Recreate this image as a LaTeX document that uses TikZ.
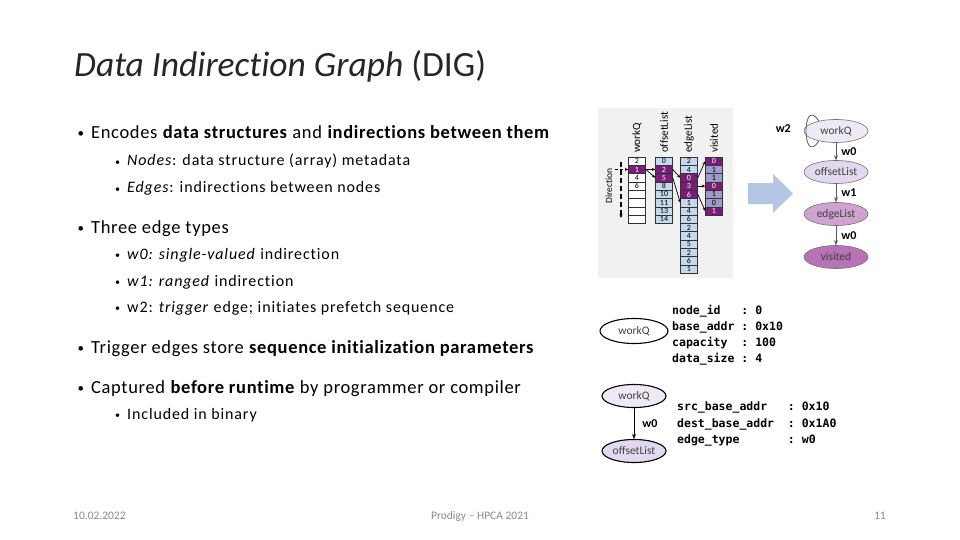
\documentclass[tikz,border=0pt]{standalone}
\usepackage{fontspec}
\setmainfont{Carlito}[Ligatures={NoCommon}]
\newfontfamily\codefont{DejaVu Sans Mono}
\usepackage{tikz}
\usetikzlibrary{shapes,arrows.meta,positioning,calc}
\usepackage{xcolor}
\definecolor{hlpurple}{HTML}{7A1C7A}
\definecolor{cellblue}{HTML}{C6D9EC}
\definecolor{cellviolet}{HTML}{9E9BCB}
\definecolor{bigarrow}{HTML}{B4C6E4}
\definecolor{panelgray}{HTML}{F1F1F1}
\definecolor{footgray}{HTML}{8A8A8A}
\definecolor{gfillA}{HTML}{EEE9F5}
\definecolor{gfillB}{HTML}{E2D9EE}
\definecolor{gfillC}{HTML}{CFA3D0}
\definecolor{gfillD}{HTML}{B872B6}

\newcommand{\bulone}{\makebox[14pt][l]{\hspace{0.5pt}\raisebox{1pt}{\fontsize{13}{13}\selectfont\textbullet}}}
\newcommand{\bultwo}{\makebox[13pt][l]{\hspace{1pt}\raisebox{1pt}{\fontsize{10}{10}\selectfont\textbullet}}}

\tikzset{
  lvlone/.style={anchor=base west, font=\fontsize{18.5}{22}\selectfont\addfontfeature{LetterSpace=3.5}},
  lvltwo/.style={anchor=base west, font=\fontsize{16}{18}\selectfont\addfontfeature{LetterSpace=5.5}},
  cell/.style={draw=black!80, line width=0.5pt, minimum width=17pt, minimum height=8.3pt,
    font=\fontsize{8}{8}\selectfont},
  wcell/.style={cell, fill=white},
  bcell/.style={cell, fill=cellblue},
  vcell/.style={cell, fill=cellviolet},
  hcell/.style={cell, fill=hlpurple, text=white},
  colhead/.style={rotate=90, anchor=west, font=\fontsize{11}{11}\selectfont},
  cellarr/.style={-{Stealth[length=3.5pt,width=3pt]}, line width=0.7pt},
  gnode/.style={ellipse, draw=black!55, line width=0.6pt, minimum width=64pt, minimum height=23pt,
    font=\fontsize{11.5}{12}\selectfont, text=black!75},
  pnode/.style={ellipse, draw=black, line width=1.1pt, minimum width=68pt, minimum height=25pt,
    font=\fontsize{11.5}{12}\selectfont, text=black!75},
  garr/.style={-{Stealth[length=5pt,width=4pt]}, line width=0.8pt, draw=black!65},
  wlab/.style={font=\bfseries\fontsize{12}{12}\selectfont},
  codetext/.style={anchor=north west, align=left, font=\codefont\bfseries\fontsize{11.5}{16}\selectfont},
  foot/.style={anchor=base, font=\fontsize{11.5}{12}\selectfont, text=footgray}
}

\begin{document}
\begin{tikzpicture}[x=1pt, y=-1pt, every node/.append style={inner sep=0pt}]
\useasboundingbox[fill=white] (0,0) rectangle (960,540);

% title
\node[anchor=base west, font=\fontsize{35.5}{40}\selectfont, text=black!85] (title) at (74,77)
  {\textit{Data Indirection Graph} (DIG)};

% bullets
\node[lvlone] (b1) at (77,139) {\bulone Encodes \textbf{data structures} and \textbf{indirections between them}};
\node[lvltwo] (b11) at (114,166) {\bultwo\textit{Nodes}: data structure (array) metadata};
\node[lvltwo] (b12) at (114,193) {\bultwo\textit{Edges}: indirections between nodes};
\node[lvlone] (b2) at (77,233) {\bulone Three edge types};
\node[lvltwo] (b21) at (114,259) {\bultwo\textit{w0: single-valued} indirection};
\node[lvltwo] (b22) at (114,286) {\bultwo\textit{w1: ranged} indirection};
\node[lvltwo] (b23) at (114,312) {\bultwo w2: \textit{trigger} edge; initiates prefetch sequence};
\node[lvlone] (b3) at (77,353) {\bulone Trigger edges store \textbf{sequence initialization parameters}};
\node[lvlone] (b4) at (77,393) {\bulone Captured \textbf{before runtime} by programmer or compiler};
\node[lvltwo] (b41) at (114,419) {\bultwo Included in binary};

% footer
\node[foot, anchor=base west] (fdate) at (73,519) {10.02.2022};
\node[foot] (fconf) at (480,519) {Prodigy -- HPCA 2021};
\node[foot, anchor=base east] (fpage) at (886,519) {11};

% array picture
\fill[panelgray] (598,108) rectangle (733,278);
\node[colhead] (hwq) at (637,153) {workQ};
\node[colhead] (hos) at (664,153) {offsetList};
\node[colhead] (hel) at (689,153) {edgeList};
\node[colhead] (hvi) at (714,153) {visited};
\foreach \v/\s [count=\i] in {2/wcell,1/hcell,4/wcell,6/wcell,/wcell,/wcell,/wcell,/wcell}
  \node[\s] (wq\i) at (637,{157+8.3*(\i-0.5)}) {\v};
\foreach \v/\s [count=\i] in {0/bcell,2/hcell,5/hcell,8/bcell,10/bcell,11/bcell,13/bcell,14/bcell}
  \node[\s] (os\i) at (664,{157+8.3*(\i-0.5)}) {\v};
\foreach \v/\s [count=\i] in {2/bcell,4/bcell,0/hcell,3/hcell,6/hcell,1/bcell,4/bcell,6/bcell,2/bcell,4/bcell,5/bcell,2/bcell,6/bcell,1/bcell}
  \node[\s] (el\i) at (689,{157+8.3*(\i-0.5)}) {\v};
\foreach \v/\s [count=\i] in {0/hcell,1/vcell,1/vcell,0/hcell,1/vcell,0/vcell,1/hcell}
  \node[\s] (vi\i) at (714,{157+8.3*(\i-0.5)}) {\v};
\draw[cellarr] (wq2.east) -- (os2.west);
\draw[cellarr] (wq2.east) -- (os3.west);
\draw[cellarr] (os2.east) -- (el3.west);
\draw[cellarr] (os3.east) -- (el6.west);
\draw[cellarr] (el3.east) -- (vi1.west);
\draw[cellarr] (el4.east) -- (vi4.west);
\draw[cellarr] (el5.east) -- (vi7.west);
\node[rotate=90, font=\fontsize{9.5}{9.5}\selectfont] (dirlab) at (609,186) {Direction};
\coordinate (dtop) at (621,162);
\coordinate (dbot) at (621,218);
\coordinate (din) at ($(wq2.west)+(-13,0)$);
\draw[cellarr, dash pattern=on 5pt off 3pt, line width=1.3pt] (dtop) -- (dbot);
\draw[cellarr, dash pattern=on 3pt off 2pt, line width=0.9pt] (din) -- (wq2.west);

% big arrow
\fill[bigarrow] (748,183) -- (773,183) -- (773,174) -- (793,193.5) -- (773,213) -- (773,204) -- (748,204) -- cycle;

% graph
\node[gnode, fill=gfillA] (gwq) at (836,131) {workQ};
\node[gnode, fill=gfillB] (gol) at (836,172) {offsetList};
\node[gnode, fill=gfillC] (gel) at (836,214) {edgeList};
\node[gnode, fill=gfillD] (gvi) at (836,257) {visited};
\draw[garr] (gwq) -- node[wlab, anchor=west, xshift=5pt] {w0} (gol);
\draw[garr] (gol) -- node[wlab, anchor=west, xshift=5pt] {w1} (gel);
\draw[garr] (gel) -- node[wlab, anchor=west, xshift=5pt] {w0} (gvi);
\draw[line width=0.8pt, draw=black!65] (gwq.150) .. controls +(-17,-27) and +(-17,27) .. (gwq.210);
\node[wlab, anchor=east] (lw2) at (791,129) {w2};

% node metadata
\node[pnode, fill=white] (pwq) at (634,331) {workQ};
\node[codetext] (ncode) at (672,305)
  {node\_id~~~:~0\\ base\_addr~:~0x10\\ capacity~~:~100\\ data\_size~:~4};

% edge metadata
\node[pnode, fill=gfillA, minimum width=64pt, minimum height=23pt] (ewq) at (634,396) {workQ};
\node[pnode, fill=gfillB, minimum width=64pt, minimum height=23pt] (eol) at (634,451) {offsetList};
\draw[garr, draw=black] (ewq) -- node[wlab, anchor=west, xshift=8pt] {w0} (eol);
\node[codetext, font=\codefont\bfseries\fontsize{11.5}{16.5}\selectfont] (ecode) at (677,402)
  {src\_base\_addr~~~:~0x10\\ dest\_base\_addr~~:~0x1A0\\ edge\_type~~~~~~~:~w0};
\end{tikzpicture}
\end{document}
